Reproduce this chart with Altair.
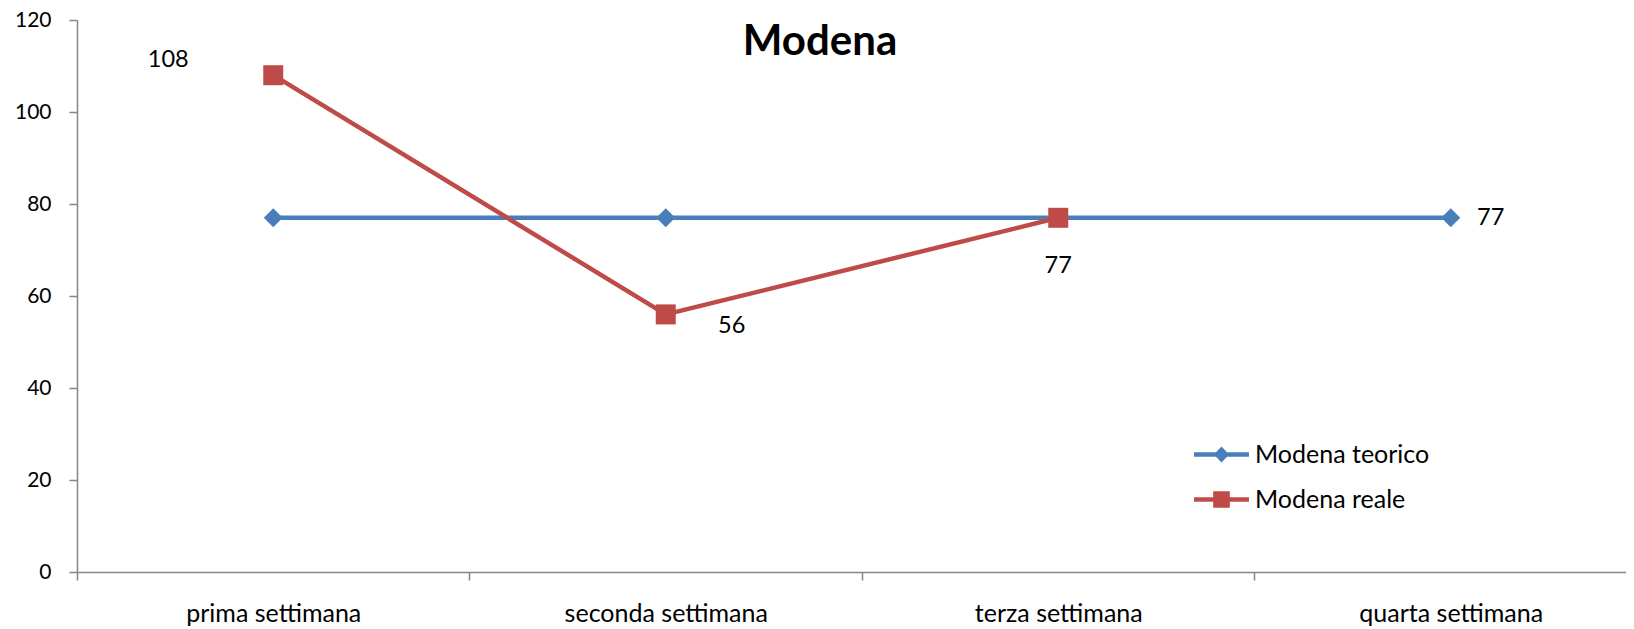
import json
import altair as alt
import pandas as pd

chart_title = "Modena"
weeks = ["prima settimana", "seconda settimana", "terza settimana", "quarta settimana"]
series_names = ["Modena teorico", "Modena reale"]
teorico = [77, 77, 77, 77]
reale = [108, 56, 77, None]

rows = []
for w, t, r in zip(weeks, teorico, reale):
    rows.append({"week": w, "series": series_names[0], "value": t})
    if r is not None:
        rows.append({"week": w, "series": series_names[1], "value": r})
df = pd.DataFrame(rows)
legend_df = pd.DataFrame({"series": series_names})
title_df = pd.DataFrame({"t": [chart_title]})

BLUE = "#4A7EBB"
RED = "#BE4B48"
AXIS = "#868686"
FONT = "Lato"

weeks_js = json.dumps(weeks)
n = len(weeks)
# band index axis: category k occupies [k, k+1]; the visible plot shows slightly less than 4 bands
x_enc = alt.X("pos:Q", title=None,
              scale=alt.Scale(domain=[0, 3.9465], nice=False, zero=False),
              axis=alt.Axis(values=[k / 2 for k in range(2 * n)],
                            labelExpr=f"datum.value % 1 == 0 ? '' : {weeks_js}[floor(datum.value)]",
                            tickOpacity={"condition": {"test": "datum.value % 1 != 0", "value": 0}, "value": 1},
                            labelAngle=0, tickSize=8, tickColor=AXIS, tickWidth=1.5,
                            domainColor=AXIS, domainWidth=1.5, labelFont=FONT, labelFontSize=25,
                            labelLimit=0, labelColor="black", labelBaseline="alphabetic",
                            labelPadding=41, labelOverlap=False, labelFlush=False, grid=False))
y_enc = alt.Y("value:Q", title=None,
              scale=alt.Scale(domain=[0, 120], nice=False),
              axis=alt.Axis(values=[0, 20, 40, 60, 80, 100, 120], tickSize=8, tickColor=AXIS, tickWidth=1.5,
                            domainColor=AXIS, domainWidth=1.5, labelFont=FONT, labelFontSize=21,
                            labelColor="black", labelPadding=18, grid=False))

base = alt.Chart(df).transform_calculate(
    pos=f"indexof({weeks_js}, datum.week) + 0.5"
).encode(x=x_enc, y=y_enc)

blue = base.transform_filter(alt.datum.series == series_names[0])
red = base.transform_filter(alt.datum.series == series_names[1])

blue_line = blue.mark_line(color=BLUE, strokeWidth=4.5)
red_line = red.mark_line(color=RED, strokeWidth=4.5)
blue_pts = blue.mark_point(shape="diamond", filled=True, color=BLUE, size=360, opacity=1)
red_pts = red.mark_point(shape="square", filled=True, color=RED, size=400, opacity=1)

def lab(data_chart, week, dx, dy):
    return data_chart.transform_filter(alt.datum.week == week).mark_text(
        font=FONT, fontSize=23.5, color="black", align="center", baseline="middle", dx=dx, dy=dy
    ).encode(text="value:Q")

labels = [
    lab(red, weeks[0], -105, -15),
    lab(red, weeks[1], 66, 12),
    lab(red, weeks[2], 0, 48),
    lab(blue, weeks[3], 40, 0),
]

diamond_path = ("M-1.22,-0.1L1.22,-0.1L1.22,0.1L-1.22,0.1Z "
                "M0,-0.36L0.34,0L0,0.36L-0.34,0Z")
square_path = ("M-1.22,-0.1L1.22,-0.1L1.22,0.1L-1.22,0.1Z "
               "M-0.37,-0.37L0.37,-0.37L0.37,0.37L-0.37,0.37Z")

def legend_props():
    return alt.Legend(title=None, orient="none", legendX=1122, legendY=412,
                      symbolSize=2025, symbolStrokeWidth=0, symbolOpacity=1,
                      labelFont=FONT, labelFontSize=25, labelColor="black", labelLimit=0,
                      labelOffset=11, rowPadding=9, padding=0)

legend_layer = alt.Chart(legend_df).mark_point(filled=True, opacity=0).encode(
    color=alt.Color("series:N", scale=alt.Scale(domain=series_names, range=[BLUE, RED]),
                    legend=legend_props()),
    shape=alt.Shape("series:N", scale=alt.Scale(domain=series_names, range=[diamond_path, square_path]),
                    legend=legend_props()),
)

title_layer = alt.Chart(title_df).mark_text(
    font=FONT, fontSize=42, fontWeight="bold", color="black", align="center", baseline="alphabetic"
).encode(text="t:N", x=alt.value(743), y=alt.value(35))

chart = alt.layer(blue_line, red_line, blue_pts, red_pts, *labels, legend_layer, title_layer).properties(
    width=1549, height=552,
    padding={"left": 69, "top": 12, "right": 0, "bottom": 55},
    autosize=alt.AutoSizeParams(type="none"),
    background="white",
).configure_view(stroke=None)

chart.save("out.html", embed_options={"renderer": "svg", "actions": False})
